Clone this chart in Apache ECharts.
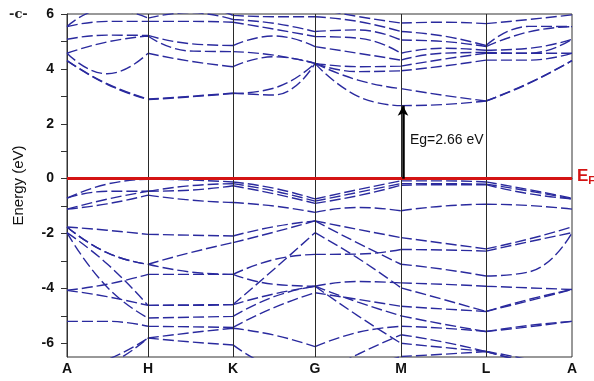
<!DOCTYPE html>
<html>
<head>
<meta charset="utf-8">
<script src="https://cdn.jsdelivr.net/npm/echarts@6/dist/echarts.min.js"></script>
<style>
  html, body { margin: 0; padding: 0; background: #ffffff; }
  #chart { width: 594px; height: 381px; }
</style>
</head>
<body>
<div id="chart"></div>
<script>
// High-symmetry points along the k-path
const symLabels = ['A', 'H', 'K', 'G', 'M', 'L', 'A'];
const symK = [0, 0.81, 1.66, 2.48, 3.34, 4.19, 5.05];

// Band energies are sampled at every symmetry point and at each segment midpoint
const kSamples = [0, 0.40, 0.81, 1.23, 1.66, 2.07, 2.48, 2.91, 3.34, 3.76, 4.19, 4.62, 5.05];

// Conduction bands (eV)
const conductionBands = [
  [4.30, 3.44, 2.88, 2.98, 3.10, 3.30, 4.20, 3.00, 2.66, 2.70, 2.83, 3.47, 4.30],
  [4.30, 3.46, 2.90, 3.00, 3.12, 3.05, 4.20, 3.59, 3.28, 3.04, 2.83, 3.49, 4.30],
  [4.57, 3.82, 4.57, 4.28, 4.08, 4.44, 4.20, 3.90, 3.93, 4.10, 4.32, 4.32, 4.57],
  [4.57, 4.98, 5.20, 4.65, 4.63, 4.50, 4.20, 4.08, 4.10, 4.35, 4.57, 4.57, 4.57],
  [5.08, 5.23, 5.22, 4.92, 4.85, 5.20, 4.81, 4.57, 4.32, 4.57, 4.60, 4.57, 5.08],
  [5.54, 5.73, 5.73, 5.73, 5.70, 5.45, 5.18, 5.12, 4.57, 4.75, 4.68, 4.75, 5.08],
  [5.54, 6.20, 5.85, 6.05, 5.80, 5.66, 5.36, 5.42, 5.05, 5.00, 4.81, 5.35, 5.54],
  [6.20, 6.40, 6.30, 6.30, 5.95, 5.90, 5.90, 5.73, 5.36, 5.20, 4.85, 5.55, 5.54],
  [6.40, 6.60, 6.50, 6.50, 6.30, 6.10, 6.20, 5.91, 5.67, 5.70, 5.65, 5.80, 5.97],
  [6.60, 6.80, 6.80, 6.80, 6.60, 6.40, 6.50, 6.30, 6.30, 6.20, 6.20, 6.10, 6.30]
];

// Upper valence bands just below the Fermi level (eV)
const upperValenceBands = [
  [-0.71, -0.20, -0.02, -0.05, -0.12, -0.35, -0.74, -0.40, -0.08, -0.08, -0.12, -0.40, -0.71],
  [-0.71, -0.46, -0.46, -0.26, -0.18, -0.45, -0.82, -0.50, -0.18, -0.18, -0.20, -0.45, -0.74],
  [-1.11, -0.75, -0.46, -0.42, -0.26, -0.55, -0.90, -0.62, -0.24, -0.22, -0.22, -0.55, -0.74],
  [-1.11, -0.92, -0.60, -0.78, -0.87, -1.00, -1.23, -1.05, -1.17, -1.00, -0.93, -0.98, -1.11]
];

// Deeper valence bands (eV)
const lowerValenceBands = [
  [-1.76, -1.88, -2.03, -2.06, -2.09, -1.75, -1.54, -1.85, -2.15, -2.35, -2.56, -2.20, -1.76],
  [-1.76, -2.70, -3.12, -2.70, -2.33, -1.95, -1.54, -2.35, -3.12, -3.30, -3.55, -3.40, -1.97],
  [-1.97, -3.10, -4.62, -4.62, -4.59, -3.30, -1.97, -2.90, -3.98, -4.40, -4.84, -4.40, -4.04],
  [-4.07, -3.85, -3.49, -3.49, -3.49, -2.95, -2.76, -2.75, -2.58, -2.60, -2.64, -2.30, -1.97],
  [-1.97, -3.95, -5.08, -5.05, -5.02, -4.30, -3.92, -3.75, -3.80, -3.85, -3.92, -3.98, -4.04],
  [-5.20, -5.20, -5.38, -5.40, -5.42, -4.70, -4.16, -4.40, -4.65, -4.75, -4.84, -4.45, -4.04],
  [-4.07, -4.30, -4.62, -4.60, -4.59, -4.20, -3.92, -5.00, -6.00, -6.15, -6.30, -6.70, -7.00],
  [-7.00, -6.60, -5.81, -5.62, -5.45, -5.70, -6.12, -5.60, -5.38, -5.45, -5.57, -5.40, -5.20],
  [-7.20, -6.80, -5.81, -5.95, -6.06, -6.90, -7.20, -6.40, -5.69, -5.95, -6.30, -6.70, -7.00],
  [-7.50, -7.50, -7.20, -7.20, -7.20, -7.20, -7.20, -6.90, -6.48, -6.40, -6.30, -6.60, -7.00],
  [-1.76, -2.70, -3.12, -3.40, -3.49, -3.85, -3.92, -4.50, -5.00, -5.30, -5.57, -5.35, -5.20]
];

// Band gap at M
const gapK = 3.36;
const gapValue = 2.66;

// Energy axis ticks
const yTickValues = [-6, -5, -4, -3, -2, -1, 0, 1, 2, 3, 4, 5, 6];
const yLabelValues = [-6, -4, -2, 0, 2, 4, 6];

const FONT = 'Arial, "Liberation Sans", sans-serif';
const BAND_COLOR = '#2a2a9e';

// Each path segment is smoothed on its own so kinks at symmetry points stay sharp
function bandData(energies) {
  const out = [];
  for (let s = 0; s < symK.length - 1; s++) {
    for (let j = 0; j < 3; j++) {
      const i = 2 * s + j;
      out.push([kSamples[i], energies[i]]);
    }
    if (s < symK.length - 2) out.push([kSamples[2 * s + 2], null]);
  }
  return out;
}

const allBands = conductionBands.concat(upperValenceBands, lowerValenceBands);

const series = allBands.map(b => ({
  type: 'line',
  data: bandData(b),
  showSymbol: false,
  symbol: 'none',
  smooth: 0.5,
  connectNulls: false,
  silent: true,
  z: 3,
  lineStyle: { color: BAND_COLOR, width: 1.4, type: [11, 4] }
}));

// Vertical lines through the interior symmetry points
series.push({
  type: 'line',
  data: [],
  silent: true,
  z: 1,
  markLine: {
    silent: true,
    symbol: 'none',
    label: { show: false },
    lineStyle: { color: '#2a2a2a', width: 1, type: 'solid' },
    data: symK.slice(1, -1).map(k => ({ xAxis: k }))
  }
});

// Fermi level
series.push({
  type: 'line',
  data: [],
  silent: true,
  z: 5,
  markLine: {
    silent: true,
    symbol: 'none',
    label: { show: false },
    lineStyle: { color: '#d41414', width: 3, type: 'solid' },
    data: [{ yAxis: 0 }]
  }
});

// Gap arrow
series.push({
  type: 'line',
  data: [],
  silent: true,
  z: 6,
  markLine: {
    silent: true,
    symbol: ['none', 'arrow'],
    symbolSize: [8, 10],
    label: { show: false },
    lineStyle: { color: '#000000', width: 2.5, type: 'solid' },
    data: [[{ coord: [gapK, 0] }, { coord: [gapK, gapValue] }]]
  }
});

const chart = echarts.init(document.getElementById('chart'), null, { renderer: 'canvas' });
chart.setOption({
  animation: false,
  backgroundColor: '#ffffff',
  grid: {
    left: 67, right: 22, top: 14, bottom: 24,
    show: true, borderColor: '#333333', borderWidth: 1
  },
  xAxis: {
    type: 'value',
    min: symK[0],
    max: symK[symK.length - 1],
    axisLine: { show: true, lineStyle: { color: '#333333', width: 1 } },
    axisTick: { show: false },
    splitLine: { show: false },
    axisLabel: {
      customValues: symK,
      formatter: v => symLabels[symK.indexOf(v)] || '',
      color: '#111111',
      fontFamily: FONT,
      fontWeight: 'bold',
      fontSize: 14,
      margin: 5
    }
  },
  yAxis: {
    type: 'value',
    min: -6.5,
    max: 6,
    name: 'Energy (eV)',
    nameLocation: 'middle',
    nameGap: 41,
    nameTextStyle: { color: '#111111', fontFamily: FONT, fontSize: 15 },
    axisLine: { show: true, lineStyle: { color: '#333333', width: 1 } },
    axisTick: { show: true, customValues: yTickValues, length: 6, lineStyle: { color: '#333333' } },
    splitLine: { show: false },
    axisLabel: {
      customValues: yLabelValues,
      color: '#111111',
      fontFamily: FONT,
      fontWeight: 'bold',
      fontSize: 14,
      margin: 13
    }
  },
  graphic: [
    {
      type: 'text', left: 9, top: 8,
      style: { text: '-c-', fill: '#222222', font: 'bold 13px "DejaVu Serif", serif' }
    },
    {
      type: 'text', left: 410, top: 133,
      style: { text: 'Eg=' + gapValue.toFixed(2) + ' eV', fill: '#111111', font: '14px ' + FONT }
    },
    {
      type: 'text', left: 577, top: 168,
      style: {
        text: '{e|E}{f|F}',
        rich: {
          e: { fill: '#d41414', font: 'bold 17px ' + FONT },
          f: { fill: '#d41414', font: 'bold 11px ' + FONT, padding: [8, 0, 0, 0] }
        }
      }
    }
  ],
  series: series
});
</script>
</body>
</html>
